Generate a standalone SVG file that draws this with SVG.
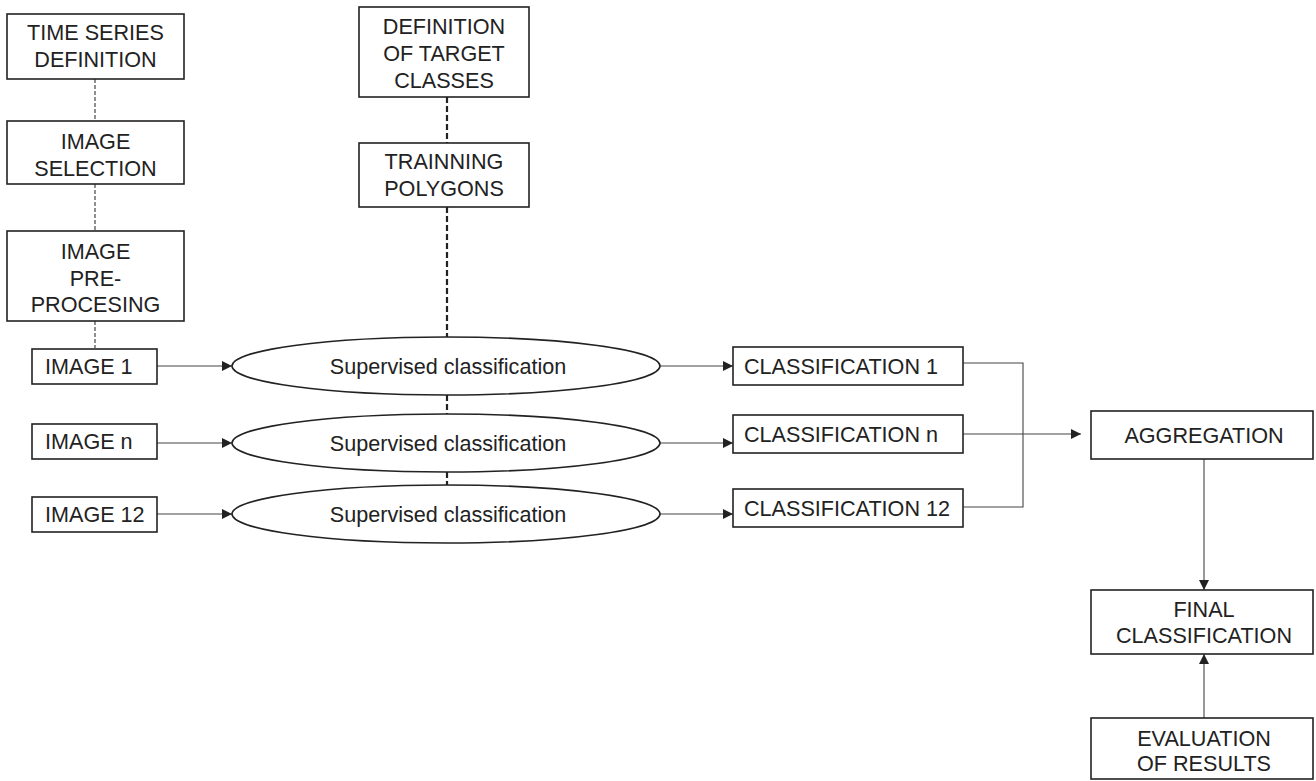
<svg xmlns="http://www.w3.org/2000/svg" width="1316" height="781" viewBox="0 0 1316 781">
  <style>
    .box { fill: #fff; stroke: #222; stroke-width: 1.6; }
    .lbl { font-family: "Liberation Sans", Arial, sans-serif; font-size: 21.6px; fill: #222; text-anchor: middle; }
    .lbl-l { font-family: "Liberation Sans", Arial, sans-serif; font-size: 21.6px; fill: #222; text-anchor: start; }
    .flow { fill: none; stroke: #444; stroke-width: 1.1; }
    .dash-thin { fill: none; stroke: #333; stroke-width: 1.1; stroke-dasharray: 4 2; }
    .dash-thick { fill: none; stroke: #222; stroke-width: 2.2; stroke-dasharray: 6 3; }
  </style>
  <defs>
    <marker id="arrow" viewBox="0 0 10 10" refX="10" refY="5" markerWidth="10" markerHeight="10" markerUnits="userSpaceOnUse" orient="auto">
      <path d="M0,0 L10,5 L0,10 z" fill="#222"/>
    </marker>
  </defs>
  <rect width="1316" height="781" fill="#fff"/>

  <!-- connectors -->
  <g id="connectors">
    <line class="dash-thin" x1="95" y1="79" x2="95" y2="121"/>
    <line class="dash-thin" x1="95" y1="184" x2="95" y2="231"/>
    <line class="dash-thin" x1="95" y1="321" x2="95" y2="348"/>
    <line class="dash-thick" x1="447" y1="97" x2="447" y2="143"/>
    <line class="dash-thick" x1="447" y1="207" x2="447" y2="337"/>
    <line class="dash-thick" x1="447" y1="395" x2="447" y2="414"/>
    <line class="dash-thick" x1="447" y1="472" x2="447" y2="485"/>
    <line class="flow" x1="157" y1="366" x2="232" y2="366" marker-end="url(#arrow)"/>
    <line class="flow" x1="157" y1="443" x2="232" y2="443" marker-end="url(#arrow)"/>
    <line class="flow" x1="157" y1="514" x2="232" y2="514" marker-end="url(#arrow)"/>
    <line class="flow" x1="660" y1="366" x2="733" y2="366" marker-end="url(#arrow)"/>
    <line class="flow" x1="660" y1="443" x2="733" y2="443" marker-end="url(#arrow)"/>
    <line class="flow" x1="660" y1="514" x2="733" y2="514" marker-end="url(#arrow)"/>
    <polyline class="flow" points="963,363 1023,363 1023,507 963,507"/>
    <line class="flow" x1="963" y1="434" x2="1081" y2="434" marker-end="url(#arrow)"/>
    <line class="flow" x1="1204" y1="459" x2="1204" y2="590" marker-end="url(#arrow)"/>
    <line class="flow" x1="1204" y1="718" x2="1204" y2="654" marker-end="url(#arrow)"/>
  </g>

  <g id="time-series-definition">
    <rect class="box" x="7" y="14" width="177" height="65"/>
    <text class="lbl" x="95.5" y="40">TIME SERIES</text>
    <text class="lbl" x="95.5" y="67">DEFINITION</text>
  </g>
  <g id="image-selection">
    <rect class="box" x="7" y="121" width="177" height="63"/>
    <text class="lbl" x="95.5" y="149">IMAGE</text>
    <text class="lbl" x="95.5" y="176">SELECTION</text>
  </g>
  <g id="image-preprocessing">
    <rect class="box" x="7" y="231" width="177" height="90"/>
    <text class="lbl" x="95.5" y="259">IMAGE</text>
    <text class="lbl" x="95.5" y="286">PRE-</text>
    <text class="lbl" x="95.5" y="312">PROCESING</text>
  </g>
  <g id="image-1">
    <rect class="box" x="32" y="349" width="125" height="35"/>
    <text class="lbl-l" x="45" y="374">IMAGE 1</text>
  </g>
  <g id="image-n">
    <rect class="box" x="32" y="424" width="125" height="35"/>
    <text class="lbl-l" x="45" y="449">IMAGE n</text>
  </g>
  <g id="image-12">
    <rect class="box" x="32" y="497" width="125" height="35"/>
    <text class="lbl-l" x="45" y="522">IMAGE 12</text>
  </g>

  <g id="target-classes">
    <rect class="box" x="359" y="7" width="170" height="90"/>
    <text class="lbl" x="444" y="34">DEFINITION</text>
    <text class="lbl" x="444" y="61">OF TARGET</text>
    <text class="lbl" x="444" y="88">CLASSES</text>
  </g>
  <g id="training-polygons">
    <rect class="box" x="359" y="143" width="170" height="64"/>
    <text class="lbl" x="444" y="169">TRAINNING</text>
    <text class="lbl" x="444" y="196">POLYGONS</text>
  </g>

  <g id="classifier-1">
    <ellipse class="box" cx="446" cy="366" rx="214" ry="29"/>
    <text class="lbl" x="448" y="374">Supervised classification</text>
  </g>
  <g id="classifier-n">
    <ellipse class="box" cx="446" cy="443" rx="214" ry="29"/>
    <text class="lbl" x="448" y="451">Supervised classification</text>
  </g>
  <g id="classifier-12">
    <ellipse class="box" cx="446" cy="514" rx="214" ry="29"/>
    <text class="lbl" x="448" y="522">Supervised classification</text>
  </g>

  <g id="classification-1">
    <rect class="box" x="733" y="347" width="230" height="38"/>
    <text class="lbl-l" x="744" y="374">CLASSIFICATION 1</text>
  </g>
  <g id="classification-n">
    <rect class="box" x="733" y="415" width="230" height="38"/>
    <text class="lbl-l" x="744" y="442">CLASSIFICATION n</text>
  </g>
  <g id="classification-12">
    <rect class="box" x="733" y="489" width="230" height="38"/>
    <text class="lbl-l" x="744" y="516">CLASSIFICATION 12</text>
  </g>

  <g id="aggregation">
    <rect class="box" x="1091" y="411" width="222" height="48"/>
    <text class="lbl" x="1204" y="443">AGGREGATION</text>
  </g>
  <g id="final-classification">
    <rect class="box" x="1091" y="590" width="222" height="64"/>
    <text class="lbl" x="1204" y="617">FINAL</text>
    <text class="lbl" x="1204" y="643">CLASSIFICATION</text>
  </g>
  <g id="evaluation">
    <rect class="box" x="1091" y="718" width="222" height="61"/>
    <text class="lbl" x="1204" y="746">EVALUATION</text>
    <text class="lbl" x="1204" y="771">OF RESULTS</text>
  </g>
</svg>
